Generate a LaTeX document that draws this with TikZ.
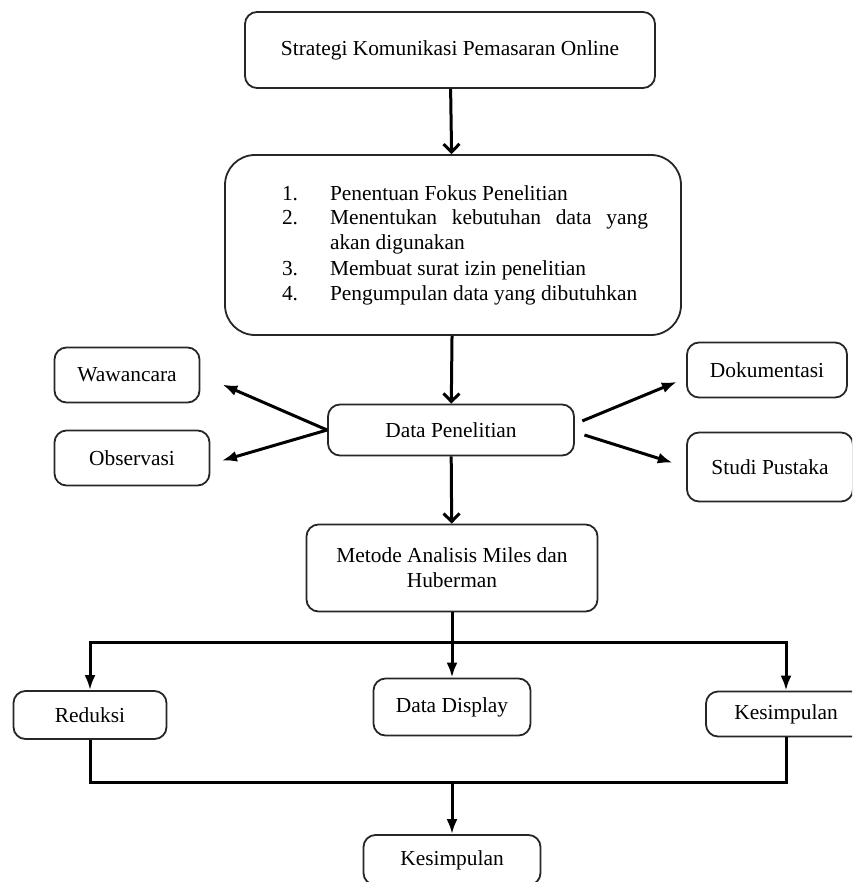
\documentclass[tikz,border=0pt]{standalone}
\usepackage{fontspec}
\setmainfont{Liberation Serif}
\usetikzlibrary{positioning, calc, arrows.meta}
\tikzset{
  kotak/.style={draw=black!85, line width=0.9pt, rounded corners=6pt, align=center,
    inner sep=2pt, font=\fontsize{10.7}{12.5}\selectfont},
  panah/.style={-{Straight Barb[length=4pt,width=8pt]}, line width=1.5pt},
  panahkecil/.style={-{Latex[length=7.5pt,width=5.5pt]}, line width=1.5pt},
  garis/.style={line width=1.5pt},
}

\begin{document}
\begin{tikzpicture}[x=0.5pt, y=-0.5pt]
    \useasboundingbox (0,0) rectangle (852,882);
    \clip (0,0) rectangle (852,882);

    \node[kotak, minimum width=205pt, minimum height=38pt] (strategi) at (450,50)
      {Strategi Komunikasi Pemasaran Online};
    \node[kotak, rounded corners=15pt, minimum width=228pt, minimum height=90pt] (langkah) at (453,245)
      {\hspace*{12pt}\begin{tabular}{@{}p{24pt}@{}p{159pt}@{}}
        1. & Penentuan Fokus Penelitian\\
        2. & Menentukan kebutuhan data yang akan digunakan\\
        3. & Membuat surat izin penelitian\\
        4. & Pengumpulan data yang dibutuhkan
      \end{tabular}};

    \node[kotak, minimum width=123pt, minimum height=25.5pt] (data) at (451,430) {Data Penelitian};
    \node[kotak, minimum width=72.5pt, minimum height=27.5pt] (wawancara) at (127,375) {Wawancara};
    \node[kotak, minimum width=77.5pt, minimum height=27.5pt] (observasi) at (132,458) {Observasi};
    \node[kotak, minimum width=80pt, minimum height=27.5pt] (dokumentasi) at (767,370) {Dokumentasi};
    \node[kotak, minimum width=83pt, minimum height=34.5pt] (studi) at (770,467) {Studi Pustaka};

    \node[kotak, minimum width=145.5pt, minimum height=43.5pt] (metode) at (452,568)
      {Metode Analisis Miles dan\\Huberman};

    \node[kotak, minimum width=76.5pt, minimum height=24pt] (reduksi) at (90,715) {Reduksi};
    \node[kotak, minimum width=78.5pt, minimum height=28.5pt] (display) at (452,707) {Data Display};
    \node[kotak, minimum width=80pt, minimum height=22.5pt] (kesimpulanA) at (786,714) {Kesimpulan};
    \node[kotak, minimum width=88.5pt, minimum height=25pt] (kesimpulanB) at (452,860) {Kesimpulan};

    \coordinate (pisah) at (452,642);
    \coordinate (gabung) at (452,782);

    \draw[panah] (strategi) -- (langkah);
    \draw[panah] (langkah) -- (data);
    \draw[panah] (data) -- (metode);

    \draw[panahkecil, shorten >=12pt] (data.west) -- (wawancara.east);
    \draw[panahkecil, shorten >=6pt] (data.west) -- ([yshift=-3pt]observasi.east);
    \draw[panahkecil, shorten <=4pt, shorten >=5pt] ([yshift=3pt]data.east) -- ([yshift=-4pt]dokumentasi.west);
    \draw[panahkecil, shorten <=5pt, shorten >=7pt] ([yshift=-1pt]data.east) -- (studi.west);

    \draw[garis] (metode) -- (pisah);
    \draw[panahkecil] (pisah) -| (reduksi);
    \draw[panahkecil] (pisah) -- (display);
    \draw[panahkecil] (pisah) -| (kesimpulanA);

    \draw[garis] (reduksi) |- (gabung);
    \draw[garis] (kesimpulanA) |- (gabung);
    \draw[panahkecil] (gabung) -- (kesimpulanB);
\end{tikzpicture}
\end{document}
